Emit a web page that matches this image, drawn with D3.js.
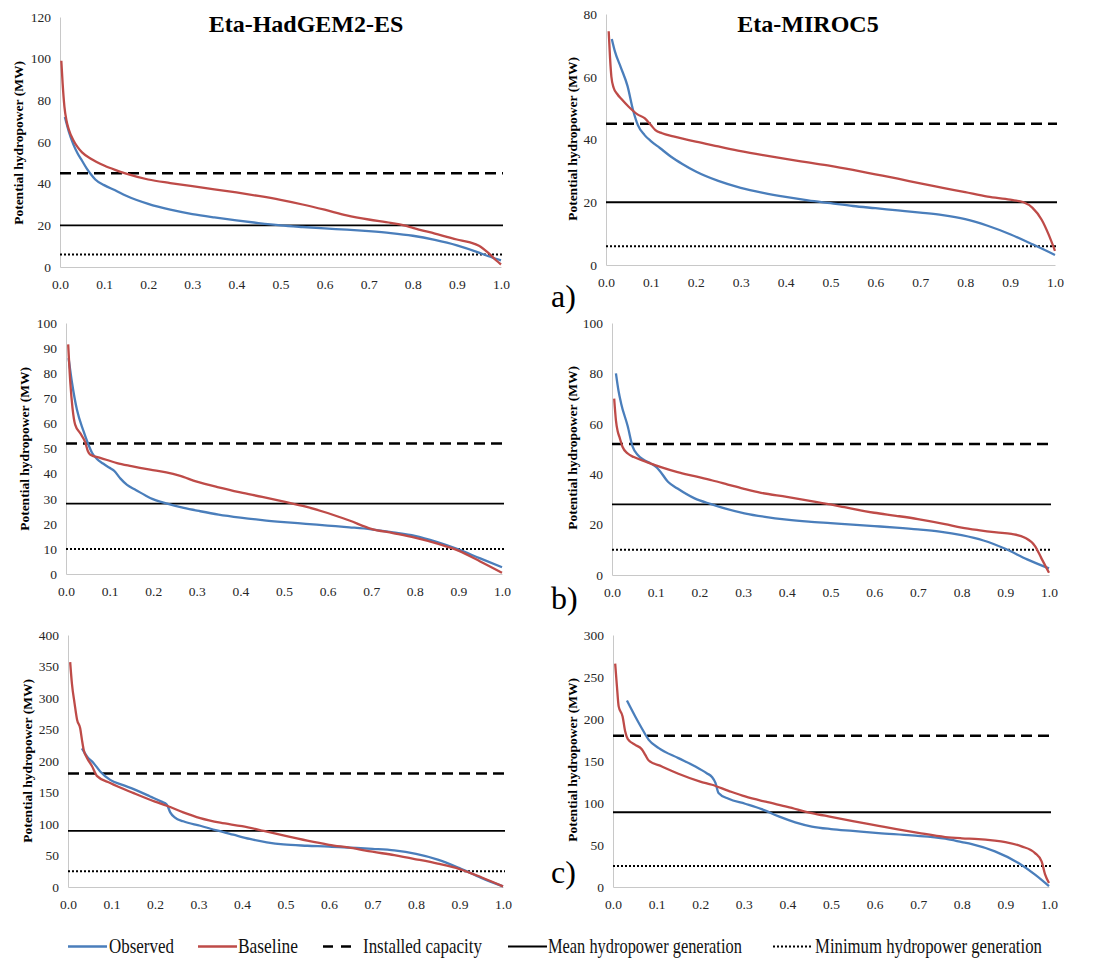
<!DOCTYPE html>
<html>
<head>
<meta charset="utf-8">
<script src="https://cdn.jsdelivr.net/npm/d3@7"></script>
<style>
  html, body { margin: 0; padding: 0; background: #fff; }
  svg { display: block; }
</style>
</head>
<body>
<script>
// ---- Flow-duration curves of potential hydropower (MW) vs. exceedance (0–1) ----
const xTicks = [0, 0.1, 0.2, 0.3, 0.4, 0.5, 0.6, 0.7, 0.8, 0.9, 1.0];
const models = ["Eta-HadGEM2-ES", "Eta-MIROC5"];
const rowLabels = ["a)", "b)", "c)"];
const legendLabels = ["Observed", "Baseline", "Installed capacity", "Mean hydropower generation", "Minimum hydropower generation"];

// y ticks per panel
const yTicksA1 = [0, 20, 40, 60, 80, 100, 120];
const yTicksA2 = [0, 20, 40, 60, 80];
const yTicksB1 = [0, 10, 20, 30, 40, 50, 60, 70, 80, 90, 100];
const yTicksB2 = [0, 20, 40, 60, 80, 100];
const yTicksC1 = [0, 50, 100, 150, 200, 250, 300, 350, 400];
const yTicksC2 = [0, 50, 100, 150, 200, 250, 300];

// reference levels [installed capacity, mean generation, minimum generation]
const refsA = [45, 20, 6];
const refsB = [52, 28, 10];
const refsC = [180, 89, 25];

// row a, Eta-HadGEM2-ES
const obsA1 = [[0.011,72],[0.02,65],[0.03,59],[0.04,54.5],[0.05,51],[0.06,47.5],[0.07,44.5],[0.08,42],[0.1,39.3],[0.125,36.8],[0.15,34.2],[0.2,30.3],[0.25,27.5],[0.3,25.4],[0.35,23.8],[0.4,22.4],[0.45,21.1],[0.5,20],[0.55,19.2],[0.6,18.5],[0.65,17.9],[0.7,17.2],[0.75,16.3],[0.8,15],[0.85,13],[0.9,10.4],[0.95,6.9],[0.97,5.3],[1.0,3.2]];
const baseA1 = [[0.003,99],[0.006,88],[0.01,77],[0.015,70],[0.02,66],[0.03,61],[0.04,57.5],[0.05,55],[0.07,52],[0.1,48.7],[0.125,46.6],[0.15,44.8],[0.2,42],[0.25,40.3],[0.3,38.8],[0.35,37.3],[0.4,35.8],[0.45,34.1],[0.5,32.2],[0.55,30],[0.6,27.5],[0.65,24.8],[0.7,22.8],[0.75,21.2],[0.78,20],[0.8,18.8],[0.85,16],[0.9,13.2],[0.93,11.8],[0.95,10.2],[0.97,7],[0.99,3],[1.0,1.2]];

// row a, Eta-MIROC5
const obsA2 = [[0.013,72],[0.02,68],[0.033,63],[0.048,57],[0.06,49.5],[0.071,44.6],[0.086,41.4],[0.1,39.5],[0.12,37.3],[0.145,34.5],[0.17,32.2],[0.2,29.8],[0.25,26.8],[0.3,24.6],[0.35,23],[0.4,21.7],[0.45,20.6],[0.5,19.7],[0.55,18.8],[0.6,18.1],[0.65,17.4],[0.7,16.7],[0.75,15.9],[0.8,14.6],[0.85,12.5],[0.9,9.8],[0.95,6.6],[1.0,3.2]];
const baseA2 = [[0.006,74.5],[0.009,66],[0.012,60],[0.017,56.5],[0.025,54.5],[0.035,52.8],[0.05,50.5],[0.07,48],[0.086,46.8],[0.1,44.6],[0.11,43],[0.125,42],[0.15,41],[0.2,39.3],[0.25,37.8],[0.3,36.3],[0.35,35],[0.4,33.8],[0.45,32.7],[0.5,31.6],[0.55,30.3],[0.6,28.9],[0.65,27.5],[0.7,26],[0.75,24.6],[0.8,23.2],[0.85,21.8],[0.9,20.8],[0.93,20],[0.95,18.2],[0.97,14.5],[0.985,10],[1.0,4.5]];

// row b, Eta-HadGEM2-ES
const obsB1 = [[0.006,86],[0.014,76],[0.025,65.5],[0.04,57],[0.05,52.2],[0.06,48.2],[0.071,45.8],[0.085,44],[0.1,42.3],[0.11,41.2],[0.125,38],[0.14,35.5],[0.16,33.5],[0.193,30.3],[0.232,28],[0.27,26.3],[0.308,25],[0.35,23.7],[0.4,22.5],[0.45,21.5],[0.5,20.7],[0.55,20],[0.6,19.3],[0.65,18.6],[0.7,17.8],[0.75,16.6],[0.8,15.2],[0.85,12.8],[0.9,9.8],[0.95,6.2],[1.0,2.7]];
const baseB1 = [[0.005,91.5],[0.01,76],[0.015,66],[0.021,59.5],[0.033,56],[0.044,52.5],[0.05,49],[0.056,47.5],[0.08,46.2],[0.117,44.2],[0.15,43],[0.193,41.6],[0.23,40.5],[0.26,39.2],[0.3,36.8],[0.35,34.5],[0.4,32.5],[0.45,30.7],[0.5,28.8],[0.55,26.8],[0.6,24.3],[0.65,21.3],[0.7,18],[0.75,16.3],[0.8,14.5],[0.85,12.2],[0.9,9.3],[0.95,5],[1.0,0.5]];

// row b, Eta-MIROC5
const obsB2 = [[0.009,80],[0.015,73],[0.021,68],[0.036,59],[0.047,51],[0.059,47.6],[0.074,45.6],[0.089,44.2],[0.1,43],[0.108,41.6],[0.128,37],[0.15,34.3],[0.189,30.4],[0.227,28.1],[0.26,26.3],[0.303,24.5],[0.35,23.1],[0.4,22],[0.45,21.2],[0.5,20.6],[0.55,20],[0.6,19.4],[0.65,18.8],[0.7,18.1],[0.75,17.2],[0.8,15.8],[0.85,13.7],[0.9,10.4],[0.95,6.2],[1.0,2.6]];
const baseB2 = [[0.005,70],[0.009,61.4],[0.013,57],[0.017,54.8],[0.024,50.9],[0.036,48.2],[0.05,46.8],[0.074,45.2],[0.1,43.5],[0.112,42.8],[0.15,40.8],[0.189,39.2],[0.23,37.5],[0.265,35.9],[0.3,34.3],[0.341,32.6],[0.4,31],[0.456,29.3],[0.5,28],[0.532,26.9],[0.6,24.7],[0.65,23.5],[0.7,22.2],[0.762,20.2],[0.8,18.8],[0.838,17.8],[0.88,16.9],[0.914,16.3],[0.945,14.8],[0.968,11.5],[0.983,6.5],[1.0,0.9]];

// row c, Eta-HadGEM2-ES
const obsC1 = [[0.032,220],[0.044,207],[0.059,196.6],[0.074,183.4],[0.097,170],[0.125,162],[0.151,155.3],[0.189,143.7],[0.215,135.5],[0.227,131],[0.235,118.5],[0.246,110],[0.265,104.3],[0.304,97.2],[0.342,89.8],[0.38,83],[0.418,76.3],[0.457,71],[0.495,67.5],[0.55,65.5],[0.6,64.3],[0.648,62.5],[0.7,60.5],[0.75,58],[0.8,52.5],[0.85,43.5],[0.9,30],[0.95,14.5],[1.0,1]];
const baseC1 = [[0.005,357],[0.009,323],[0.015,292],[0.021,265],[0.028,252],[0.032,234],[0.036,218],[0.044,204.5],[0.055,192],[0.067,176],[0.097,165],[0.151,149],[0.2,135.5],[0.227,129],[0.265,118.5],[0.304,109.4],[0.35,102],[0.4,96.5],[0.45,89],[0.5,81],[0.55,73.5],[0.6,67],[0.65,62],[0.7,56],[0.75,50.5],[0.8,44],[0.85,37],[0.9,28.5],[0.95,15.5],[1.0,1]];

// row c, Eta-MIROC5
const obsC2 = [[0.032,222],[0.051,203],[0.066,189],[0.082,175.2],[0.105,165.3],[0.15,153.4],[0.189,143.5],[0.215,135.5],[0.227,131],[0.235,124],[0.242,112],[0.265,105],[0.303,99.1],[0.341,92.7],[0.38,84],[0.418,77],[0.456,72],[0.5,69],[0.55,66.8],[0.609,64.2],[0.685,61.4],[0.762,57.5],[0.8,53.5],[0.823,51],[0.876,42.4],[0.93,28.5],[0.968,14.7],[1.0,1]];
const baseC2 = [[0.005,266],[0.009,239],[0.013,215],[0.022,203],[0.028,185],[0.034,176],[0.051,169.2],[0.066,164],[0.074,157.3],[0.082,150.6],[0.112,143.5],[0.15,134.8],[0.2,125.5],[0.227,121.7],[0.265,114.5],[0.303,107.8],[0.35,101.5],[0.4,95.5],[0.456,88],[0.5,83.5],[0.55,78.5],[0.609,72.9],[0.65,69],[0.7,64.5],[0.762,59.5],[0.8,58],[0.838,57],[0.87,55.5],[0.9,53.5],[0.937,48.4],[0.968,40.4],[0.983,30.5],[0.991,15],[1.0,4.8]];

// ---- panel assembly ----
const panels = [
  { obs: obsA1, base: baseA1, refs: refsA, yTicks: yTicksA1 },
  { obs: obsA2, base: baseA2, refs: refsA, yTicks: yTicksA2 },
  { obs: obsB1, base: baseB1, refs: refsB, yTicks: yTicksB1 },
  { obs: obsB2, base: baseB2, refs: refsB, yTicks: yTicksB2 },
  { obs: obsC1, base: baseC1, refs: refsC, yTicks: yTicksC1 },
  { obs: obsC2, base: baseC2, refs: refsC, yTicks: yTicksC2 }
];

// plot-area geometry (pixels)
const frames = [
  { x0: 60,  x1: 501,  yTop: 17,  yBot: 267, titleX: 18,  titleY: 143 },
  { x0: 606, x1: 1055, yTop: 14,  yBot: 265, titleX: 572, titleY: 139 },
  { x0: 66,  x1: 502,  yTop: 323, yBot: 574, titleX: 24,  titleY: 449 },
  { x0: 612, x1: 1049, yTop: 323, yBot: 575, titleX: 572, titleY: 448 },
  { x0: 68,  x1: 503,  yTop: 635, yBot: 887, titleX: 27,  titleY: 761 },
  { x0: 613, x1: 1049, yTop: 635, yBot: 887, titleX: 572, titleY: 760 }
];

const BLUE = "#4a7ebb", RED = "#be4b48";
const SERIF = "Liberation Serif, Times New Roman, serif";
const refStyles = [
  { width: 2.5, dash: "11,6" },
  { width: 1.8, dash: null },
  { width: 2,   dash: "2,2" }
];

const svg = d3.select("body").append("svg")
  .attr("width", 1094).attr("height", 960)
  .attr("viewBox", "0 0 1094 960");

function styleAxis(sel) {
  sel.attr("font-family", SERIF).attr("font-size", 13.5);
  sel.select(".domain").attr("stroke", "#c8c8c8").attr("stroke-width", 1);
  sel.selectAll(".tick text").attr("fill", "#262626");
}

panels.forEach((p, i) => {
  const f = frames[i];
  const yMax = d3.max(p.yTicks);
  const x = d3.scaleLinear().domain([0, 1]).range([f.x0, f.x1]);
  const y = d3.scaleLinear().domain([0, yMax]).range([f.yBot, f.yTop]);
  const g = svg.append("g");

  g.append("g")
    .attr("transform", `translate(0,${f.yBot})`)
    .call(d3.axisBottom(x).tickValues(xTicks).tickFormat(d3.format(".1f")).tickSize(0).tickPadding(12))
    .call(styleAxis);
  g.append("g")
    .attr("transform", `translate(${f.x0},0)`)
    .call(d3.axisLeft(y).tickValues(p.yTicks).tickFormat(d3.format("d")).tickSize(0).tickPadding(9))
    .call(styleAxis);

  g.append("text")
    .attr("transform", `translate(${f.titleX},${f.titleY}) rotate(-90)`)
    .attr("dy", "0.35em")
    .attr("text-anchor", "middle")
    .attr("font-family", SERIF).attr("font-weight", "bold").attr("font-size", 13.5)
    .text("Potential hydropower (MW)");

  p.refs.forEach((v, k) => {
    g.append("line")
      .attr("x1", x(0)).attr("x2", x(1) + 2)
      .attr("y1", y(v)).attr("y2", y(v))
      .attr("stroke", "#000").attr("stroke-width", refStyles[k].width)
      .attr("stroke-dasharray", refStyles[k].dash);
  });

  const line = d3.line().x(d => x(d[0])).y(d => y(d[1])).curve(d3.curveMonotoneX);
  g.append("path").attr("d", line(p.obs)).attr("fill", "none")
    .attr("stroke", BLUE).attr("stroke-width", 2.3).attr("stroke-linejoin", "round");
  g.append("path").attr("d", line(p.base)).attr("fill", "none")
    .attr("stroke", RED).attr("stroke-width", 2.3).attr("stroke-linejoin", "round");
});

// column headings
[[306, models[0]], [808, models[1]]].forEach(([cx, t]) => {
  svg.append("text").attr("x", cx).attr("y", 32).attr("text-anchor", "middle")
    .attr("font-family", SERIF).attr("font-weight", "bold").attr("font-size", 24)
    .text(t);
});

// row labels
[307, 609, 883].forEach((by, r) => {
  svg.append("text").attr("x", 551).attr("y", by)
    .attr("font-family", SERIF).attr("font-size", 32)
    .text(rowLabels[r]);
});

// legend (narrow serif text: glyphs are scaled horizontally to the target width)
const legendY = 946.5, legendBase = 953;
const legendItems = [
  { sx: 68,  ex: 107, color: BLUE, width: 2.5, dash: null,  tx: 109, tw: 65 },
  { sx: 198, ex: 237, color: RED,  width: 2.5, dash: null,  tx: 238, tw: 60 },
  { sx: 323, ex: 352, color: "#000", width: 2.5, dash: "10,8", tx: 363, tw: 119 },
  { sx: 508, ex: 547, color: "#000", width: 2, dash: null,  tx: 548, tw: 194 },
  { sx: 773, ex: 813, color: "#000", width: 2, dash: "2,2", tx: 815, tw: 227 }
];
legendItems.forEach((it, k) => {
  svg.append("line").attr("x1", it.sx).attr("x2", it.ex)
    .attr("y1", legendY).attr("y2", legendY)
    .attr("stroke", it.color).attr("stroke-width", it.width)
    .attr("stroke-dasharray", it.dash);
  const t = svg.append("text")
    .attr("font-family", SERIF).attr("font-size", 21).attr("fill", "#111")
    .text(legendLabels[k]);
  const natural = t.node().getComputedTextLength();
  t.attr("transform", `translate(${it.tx},${legendBase}) scale(${it.tw / natural},1)`);
});
</script>
</body>
</html>
